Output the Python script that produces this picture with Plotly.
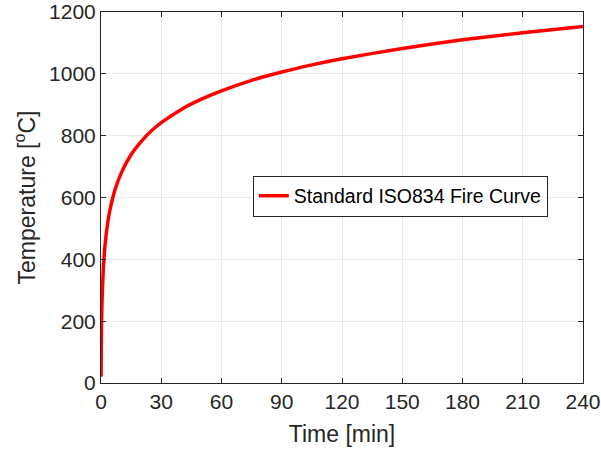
import plotly.graph_objects as go

time_min = [0, 0.25, 0.5, 1, 1.5, 2, 3, 4, 5, 7, 10, 15, 20, 25, 30, 40, 50, 60,
            75, 90, 105, 120, 150, 180, 210, 240]
temp_c = [20, 185, 261, 349, 404, 445, 502, 544, 576, 626, 678, 739, 781, 815, 842,
          885, 918, 945, 979, 1006, 1029, 1049, 1082, 1110, 1133, 1153]
x_ticks = [0, 30, 60, 90, 120, 150, 180, 210, 240]
y_ticks = [0, 200, 400, 600, 800, 1000, 1200]

font = "Liberation Sans, Arial, sans-serif"
fig = go.Figure()
fig.add_trace(go.Scatter(x=time_min, y=temp_c, mode="lines", line=dict(color="#ff0000", width=3.5, shape="spline", smoothing=0.6),
                         name="Standard ISO834 Fire Curve"))

axis_common = dict(showline=True, linecolor="#262626", linewidth=1, mirror="ticks",
                   ticks="inside", ticklen=5, tickcolor="#262626", automargin=False,
                   showgrid=True, gridcolor="#ebebeb", gridwidth=1, zeroline=False,
                   tickfont=dict(family=font, size=21, color="#262626"))
fig.update_xaxes(range=[0, 240], tickvals=x_ticks, title=dict(text="Time [min]", font=dict(family=font, size=23, color="#262626"), standoff=13), **axis_common)
fig.update_yaxes(range=[0, 1200], tickvals=y_ticks, title=dict(text="Temperature [<sup>o</sup>C]", font=dict(family=font, size=23, color="#262626"), standoff=7), **axis_common)

fig.update_layout(width=601, height=455, margin=dict(l=101, r=18, t=12, b=72, autoexpand=False),
                  plot_bgcolor="white", paper_bgcolor="white",
                  showlegend=True,
                  legend=dict(x=0.315, y=0.504, xanchor="left", yanchor="middle",
                              bgcolor="white", bordercolor="#262626", borderwidth=1,
                              font=dict(family=font, size=19.5, color="#000000")))
fig.write_html("out.html")
